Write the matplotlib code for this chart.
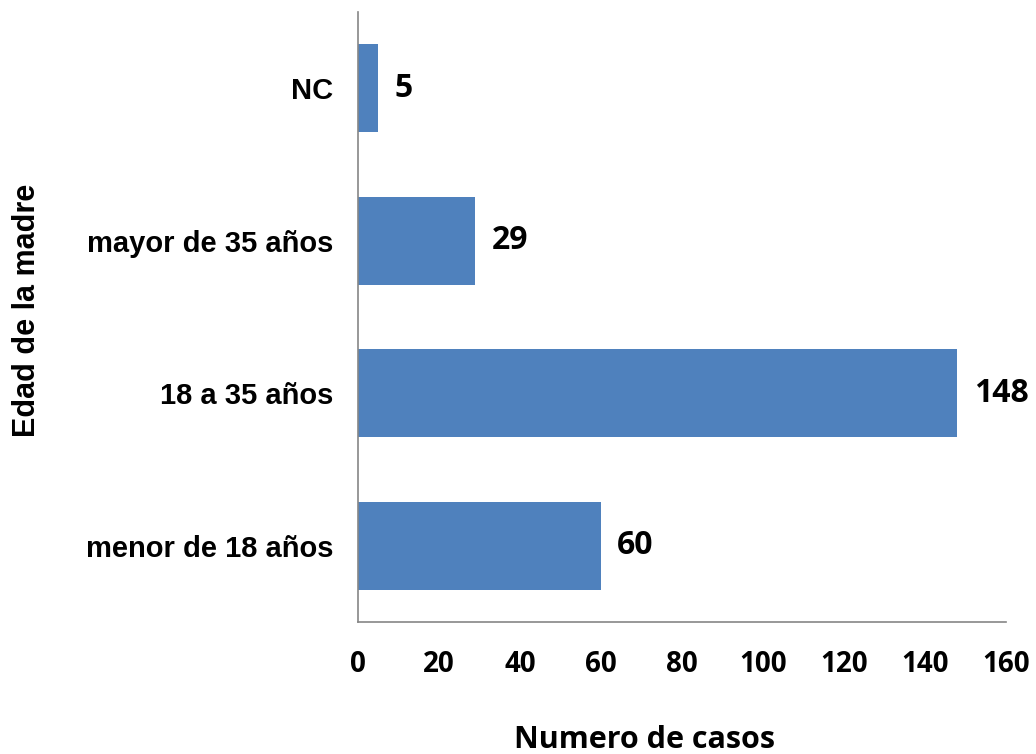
import matplotlib.pyplot as plt

categorias = ["menor de 18 años", "18 a 35 años", "mayor de 35 años", "NC"]
casos = [60, 148, 29, 5]
xticks = [0, 20, 40, 60, 80, 100, 120, 140, 160]

fig = plt.figure(figsize=(10.36, 7.54), dpi=100)
ax = fig.add_axes([358 / 1036, 1 - 622 / 754, (1006 - 358) / 1036, (622 - 12) / 754])

pos = list(range(len(categorias)))
barras = ax.barh(pos, casos, height=0.58, color="#4F81BD")
ax.set_xlim(0, 160)
ax.set_ylim(-0.5, 3.5)

for b, v in zip(barras, casos):
    ax.text(v + 4, b.get_y() + b.get_height() / 2, str(v), va="center", ha="left",
            fontsize=23, fontweight="bold", family="Open Sans")

ax.set_yticks(pos)
ax.set_yticklabels(categorias, fontsize=21, fontweight="bold", family="Liberation Sans")
ax.set_xticks(xticks)
ax.set_xticklabels([str(t) for t in xticks], fontsize=20, fontweight="bold", family="Open Sans")
ax.tick_params(axis="both", length=0)
ax.tick_params(axis="x", pad=20)
ax.tick_params(axis="y", pad=18)

for s in ["top", "right"]:
    ax.spines[s].set_visible(False)
for s in ["left", "bottom"]:
    ax.spines[s].set_color("#868686")
    ax.spines[s].set_linewidth(1.2)

fig.text(644 / 1036, 1 - 740 / 754, "Numero de casos", ha="center", va="center",
         fontsize=22, fontweight="bold", family="Open Sans")
fig.text(27 / 1036, 1 - 310 / 754, "Edad de la madre", ha="center", va="center", rotation=90,
         fontsize=22, fontweight="bold", family="Liberation Sans")

fig.savefig("out.png", dpi=100)
